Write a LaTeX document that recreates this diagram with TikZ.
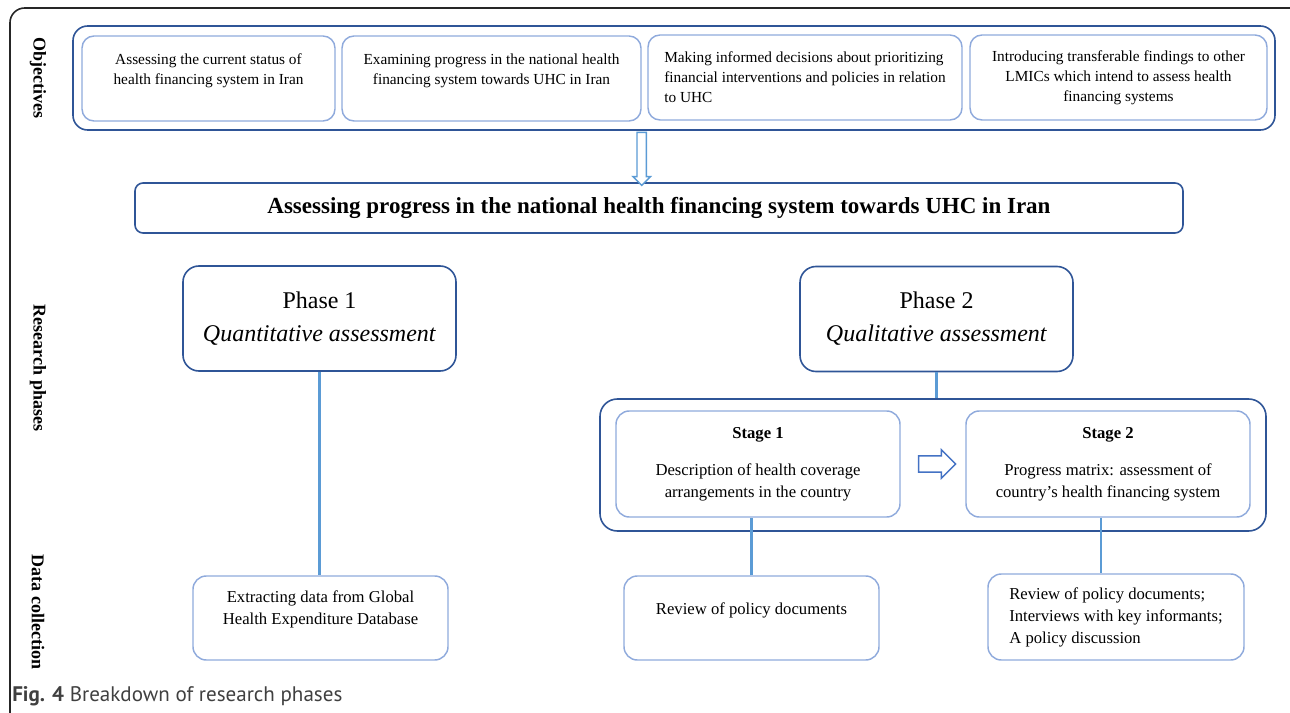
\documentclass[tikz,border=0pt]{standalone}
\usepackage{fontspec}
\setmainfont{Liberation Serif}
\newfontfamily\capfont{PT Sans}
\usetikzlibrary{shapes.arrows,positioning,calc}
\definecolor{DarkBlue}{RGB}{47,85,151}
\definecolor{LightBlue}{RGB}{143,170,220}
\definecolor{LineBlue}{RGB}{91,155,213}
\definecolor{ArrowBlue}{RGB}{68,114,196}
\definecolor{CapGray}{RGB}{64,64,64}
\tikzset{group/.style={rectangle, draw=DarkBlue, line width=1.2pt, rounded corners=11pt}}
\tikzset{objective/.style={rectangle, draw=LightBlue, line width=1.1pt, rounded corners=9pt,
 minimum height=63.75pt, inner sep=0pt, font=\fontsize{11.5}{15}\selectfont}}
\tikzset{phase/.style={rectangle, draw=DarkBlue, line width=1.2pt, rounded corners=12pt,
 minimum width=204.75pt, minimum height=78.75pt, align=center, font=\fontsize{18}{24.75}\selectfont}}
\tikzset{stagebox/.style={rectangle, draw=LightBlue, line width=1.1pt, rounded corners=10pt,
 minimum width=213pt, minimum height=79.5pt, align=center, font=\fontsize{12.5}{16.5}\selectfont}}
\tikzset{datum/.style={rectangle, draw=LightBlue, line width=1.1pt, rounded corners=10pt,
 minimum width=191.25pt, minimum height=63pt, inner sep=0pt, font=\fontsize{12.5}{16.5}\selectfont}}
\tikzset{side/.style={rotate=-90, inner sep=0pt, font=\fontsize{13.5}{16}\selectfont\bfseries}}
\tikzset{link/.style={draw=LineBlue, line width=1.6pt}}
\tikzset{hollow/.style={single arrow, draw, line width=1.1pt, fill=white, inner xsep=0pt, minimum width=0pt}}

\begin{document}
\begin{tikzpicture}[x=0.75pt, y=-0.75pt]
\useasboundingbox (0,0) rectangle (1290,713);
\clip (0,0) rectangle (1290,713);
% outer frame
\draw[draw=black!85, line width=1.2pt, rounded corners=11pt] (10,8) rectangle (1320,740);

% row labels
\node[side] (labObj) at (38,78) {Objectives};
\node[side] (labRes) at (38,368) {Research phases};
\node[side] (labDat) at (38,612) {Data collection};

% objectives
\node[group, minimum width=901.5pt, minimum height=78pt] (objs) at (674,78) {};
\node[objective, minimum width=189.75pt, align=center, text depth=14.5pt] (o1) at (208.5,78.5)
 {Assessing the current status of\\health financing system in Iran};
\node[objective, minimum width=224.25pt, align=center, text depth=14.5pt] (o2) at (491.5,78.5)
 {Examining progress in the national health\\financing system towards UHC in Iran};
\node[objective, minimum width=235.5pt, align=left] (o3) at (805,77.5)
 {Making informed decisions about prioritizing\\financial interventions and policies in relation\\to UHC};
\node[objective, minimum width=222.75pt, align=center] (o4) at (1118.5,77.5)
 {Introducing transferable findings to other\\LMICs which intend to assess health\\financing systems};

\node[group, rounded corners=6pt, minimum width=786pt, minimum height=37.5pt,
 font=\fontsize{17.25}{20}\selectfont\bfseries] (main) at (659,208)
 {Assessing progress in the national health financing system towards UHC in Iran};

\node[hollow, draw=LineBlue, rotate=-90, inner ysep=3pt, single arrow head extend=3pt,
 minimum height=39.75pt] (down) at ($(o2.east |- objs.south)!0.5!(o2.east |- main.north)$) {};

% phases
\node[phase] (ph1) at (319.5,318.5) {Phase 1\\\textit{Quantitative assessment}};
\node[phase] (ph2) at (936.5,319) {Phase 2\\\textit{Qualitative assessment}};

\node[group, rounded corners=13pt, minimum width=499.5pt, minimum height=99pt] (stages) at (933,465) {};
\node[stagebox] (st1) at (758,464)
 {\textbf{Stage 1}\\[11pt]Description of health coverage\\arrangements in the country};
\node[stagebox] (st2) at (1108,464)
 {\textbf{Stage 2}\\[11pt]Progress matrix: assessment of\\country's health financing system};
\node[hollow, draw=ArrowBlue, inner ysep=5.6pt, single arrow head extend=4.5pt,
 minimum height=27.75pt] (next) at ($(st1.east)!0.5!(st2.west)$) {};

% data collection
\node[datum, align=center, text depth=16.2pt] (d1) at (320.5,618)
 {Extracting data from Global\\Health Expenditure Database};
\node[datum, align=center, text depth=14.7pt] (d2) at (751.5,618) {Review of policy documents};
\node[datum, minimum width=192pt, minimum height=64.5pt, align=left] (d3) at (1116,617)
 {Review of policy documents;\\Interviews with key informants;\\A policy discussion};

\draw[link] (ph1.south) -- (ph1.south |- d1.north);
\draw[link] (ph2.south) -- (ph2.south |- stages.north);
\draw[link] (d2.north) -- (d2.north |- st1.south);
\draw[link] ([xshift=-5.25pt]st2.south) -- ([xshift=-5.25pt]st2.south |- d3.north);

\node[anchor=west, inner sep=0pt, text=CapGray, font=\capfont\fontsize{15.8}{18}\selectfont] (caption) at (12,696)
 {\textbf{Fig. 4} Breakdown of research phases};
\end{tikzpicture}
\end{document}
